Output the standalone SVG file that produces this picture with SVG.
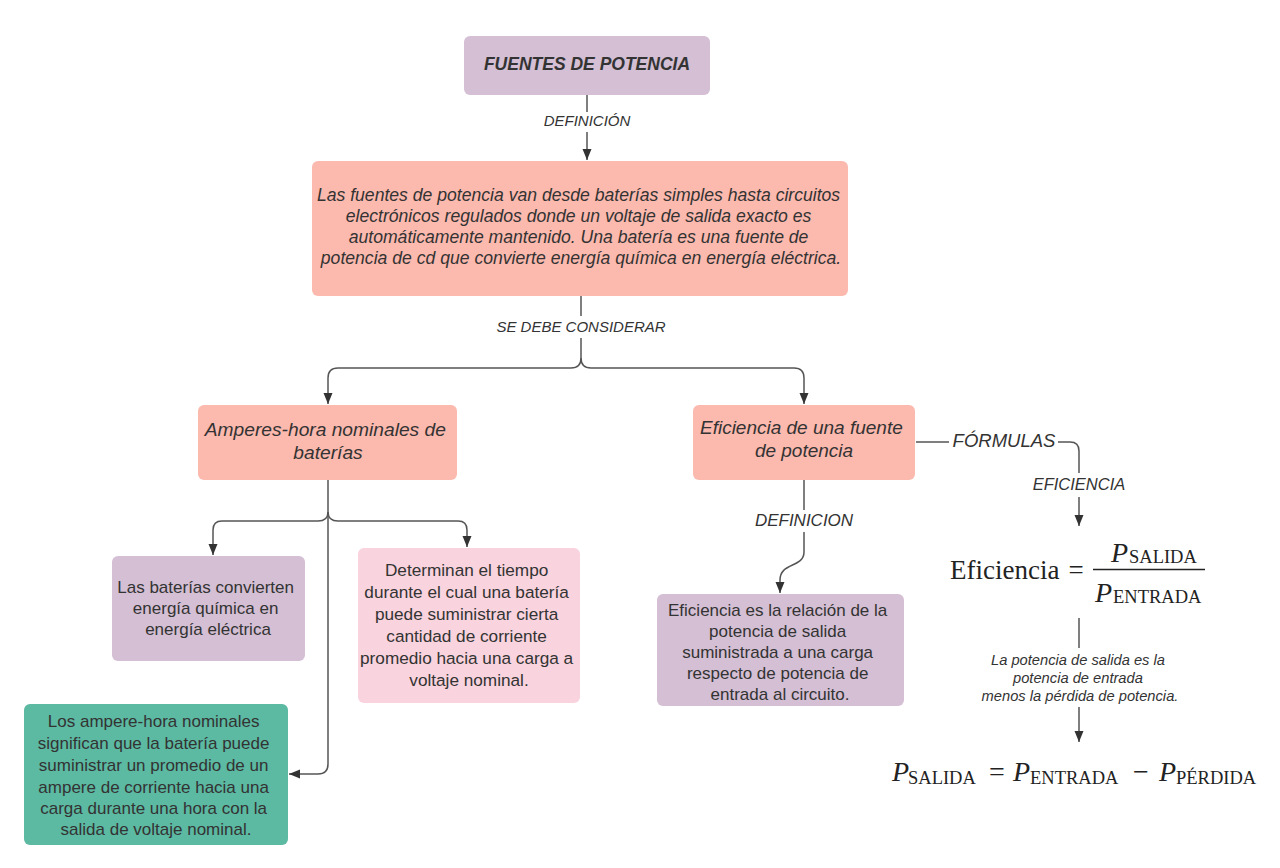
<svg xmlns="http://www.w3.org/2000/svg" width="1280" height="868" viewBox="0 0 1280 868">
<style>
.n{font-family:"Liberation Sans",Arial,sans-serif;fill:#333;text-anchor:middle}
.i{font-style:italic}
.lbl{font-family:"Liberation Sans",Arial,sans-serif;font-style:italic;fill:#333;text-anchor:middle}
.c{fill:none;stroke:#555;stroke-width:1.5}
.f{font-family:"Liberation Serif","Times New Roman",serif;fill:#222}
.purple{fill:#d4bfd4}
.salmon{fill:#fcb9ae}
.pink{fill:#f9d3de}
.teal{fill:#5cb9a2}
</style>
<defs>
<marker id="ah" markerUnits="userSpaceOnUse" markerWidth="12" markerHeight="12" viewBox="0 0 12 12" refX="11" refY="6" orient="auto">
<path d="M0,1.5 L11,6 L0,10.5 Z" fill="#333"/>
</marker>
</defs>
<rect width="1280" height="868" fill="#fff"/>

<g id="connectors">
<path class="c" d="M587,95 V112"/>
<path class="c" d="M587,132 V160" marker-end="url(#ah)"/>
<path class="c" d="M581,296 V316"/>
<path class="c" d="M581,338 V358 Q581,368 571,368 H338 Q328,368 328,378 V404" marker-end="url(#ah)"/>
<path class="c" d="M581,358 Q581,368 591,368 H794 Q804,368 804,378 V404" marker-end="url(#ah)"/>
<path class="c" d="M328,480 V512 Q328,521 318,521 H222 Q213,521 213,530 V555" marker-end="url(#ah)"/>
<path class="c" d="M328,512 Q328,521 338,521 H458 Q467,521 467,530 V547" marker-end="url(#ah)"/>
<path class="c" d="M328,512 V764 Q328,774 318,774 H289" marker-end="url(#ah)"/>
<path class="c" d="M804,480 V510"/>
<path class="c" d="M804,532 V552 C804,568 780,562 780,580 V593" marker-end="url(#ah)"/>
<path class="c" d="M916,442 H949"/>
<path class="c" d="M1058,442 H1070 Q1079,442 1079,451 V473"/>
<path class="c" d="M1079,497 V526" marker-end="url(#ah)"/>
<path class="c" d="M1079,618 V648"/>
<path class="c" d="M1079,707 V742" marker-end="url(#ah)"/>
<text class="lbl" x="587" y="126" font-size="15">DEFINICIÓN</text>
<text class="lbl" x="581" y="332" font-size="15">SE DEBE CONSIDERAR</text>
<text class="lbl" x="804" y="526" font-size="17">DEFINICION</text>
<text class="lbl" x="1004" y="447" font-size="18.5">FÓRMULAS</text>
<text class="lbl" x="1079" y="490" font-size="16.5">EFICIENCIA</text>
</g>

<g id="n-fuentes">
<rect class="purple" x="464" y="36" width="246" height="59" rx="6"/>
<text class="n i" x="587" y="70" font-size="17.5" font-weight="bold">FUENTES DE POTENCIA</text>
</g>

<g id="n-definicion">
<rect class="salmon" x="312" y="161" width="536" height="135" rx="6"/>
<text class="n i" font-size="17.6">
<tspan x="581" y="201">Las fuentes de potencia van desde baterías simples hasta circuitos</tspan>
<tspan x="581" y="222">electrónicos regulados donde un voltaje de salida exacto es</tspan>
<tspan x="581" y="243">automáticamente mantenido. Una batería es una fuente de</tspan>
<tspan x="581" y="264">potencia de cd que convierte energía química en energía eléctrica.</tspan>
</text>
</g>

<g id="n-amperes">
<rect class="salmon" x="198" y="405" width="259" height="75" rx="6"/>
<text class="n i" font-size="19.2">
<tspan x="328" y="436">Amperes-hora nominales de</tspan>
<tspan x="328" y="459">baterías</tspan>
</text>
</g>

<g id="n-eficiencia">
<rect class="salmon" x="693" y="405" width="222" height="75" rx="6"/>
<text class="n i" font-size="19">
<tspan x="804" y="434">Eficiencia de una fuente</tspan>
<tspan x="804" y="457">de potencia</tspan>
</text>
</g>

<g id="n-baterias">
<rect class="purple" x="112" y="556" width="193" height="105" rx="6"/>
<text class="n" font-size="17">
<tspan x="208" y="593">Las baterías convierten</tspan>
<tspan x="208" y="614">energía química en</tspan>
<tspan x="208" y="635">energía eléctrica</tspan>
</text>
</g>

<g id="n-determinan">
<rect class="pink" x="358" y="548" width="222" height="155" rx="6"/>
<text class="n" font-size="17.2">
<tspan x="469" y="576">Determinan el tiempo</tspan>
<tspan x="469" y="598">durante el cual una batería</tspan>
<tspan x="469" y="620">puede suministrar cierta</tspan>
<tspan x="469" y="642">cantidad de corriente</tspan>
<tspan x="469" y="664">promedio hacia una carga a</tspan>
<tspan x="469" y="686">voltaje nominal.</tspan>
</text>
</g>

<g id="n-ampere-hora">
<rect class="teal" x="24" y="704" width="264" height="141" rx="6"/>
<text class="n" font-size="17">
<tspan x="156" y="727">Los ampere-hora nominales</tspan>
<tspan x="156" y="749">significan que la batería puede</tspan>
<tspan x="156" y="771">suministrar un promedio de un</tspan>
<tspan x="156" y="793">ampere de corriente hacia una</tspan>
<tspan x="156" y="814">carga durante una hora con la</tspan>
<tspan x="156" y="835">salida de voltaje nominal.</tspan>
</text>
</g>

<g id="n-relacion">
<rect class="purple" x="657" y="594" width="247" height="112" rx="6"/>
<text class="n" font-size="17">
<tspan x="780" y="616">Eficiencia es la relación de la</tspan>
<tspan x="780" y="637">potencia de salida</tspan>
<tspan x="780" y="658">suministrada a una carga</tspan>
<tspan x="780" y="679">respecto de potencia de</tspan>
<tspan x="780" y="700">entrada al circuito.</tspan>
</text>
</g>

<g id="n-formula1">
<text class="f" x="950" y="579" font-size="27">Eficiencia</text>
<text class="f" x="1076" y="579" font-size="27" text-anchor="middle">=</text>
<text class="f" x="1111" y="562" font-size="28" font-style="italic">P</text>
<text class="f" x="1129" y="563" font-size="18.5">SALIDA</text>
<line x1="1093" y1="569.5" x2="1205" y2="569.5" stroke="#222" stroke-width="1.4"/>
<text class="f" x="1095" y="602" font-size="28" font-style="italic">P</text>
<text class="f" x="1113" y="603" font-size="18.5">ENTRADA</text>
</g>

<g id="n-nota">
<text class="lbl" font-size="14.7">
<tspan x="1080" y="665">La potencia de salida es la</tspan>
<tspan x="1080" y="683">potencia de entrada</tspan>
<tspan x="1080" y="701">menos la pérdida de potencia.</tspan>
</text>
</g>

<g id="n-formula2">
<text class="f" x="892" y="781" font-size="28" font-style="italic">P</text>
<text class="f" x="908" y="784" font-size="18.5">SALIDA</text>
<text class="f" x="997" y="781" font-size="28" text-anchor="middle">=</text>
<text class="f" x="1013" y="781" font-size="28" font-style="italic">P</text>
<text class="f" x="1030" y="784" font-size="18.5">ENTRADA</text>
<text class="f" x="1141" y="781" font-size="28" text-anchor="middle">−</text>
<text class="f" x="1159" y="781" font-size="28" font-style="italic">P</text>
<text class="f" x="1176" y="784" font-size="18.5">PÉRDIDA</text>
</g>
</svg>
